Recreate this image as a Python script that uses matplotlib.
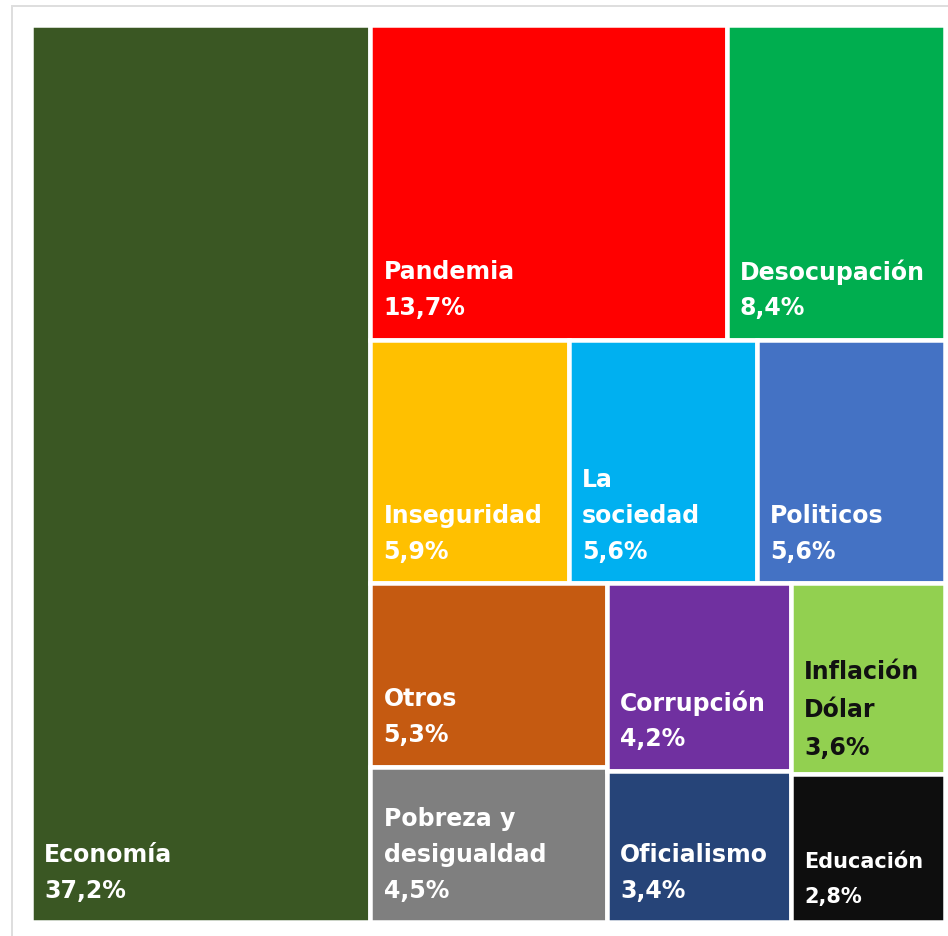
import matplotlib
matplotlib.use('Agg')
import matplotlib.pyplot as plt
from matplotlib.patches import Rectangle

# data
labels = ['Economía', 'Pandemia', 'Desocupación', 'Inseguridad', 'La\nsociedad',
          'Politicos', 'Otros', 'Corrupción', 'Inflación\nDólar',
          'Pobreza y\ndesigualdad', 'Oficialismo', 'Educación']
values = [37.2, 13.7, 8.4, 5.9, 5.6, 5.6, 5.3, 4.2, 3.6, 4.5, 3.4, 2.8]
colors = ['#3a5723', '#ff0000', '#00ae4f', '#ffc000', '#00b0f0', '#4472c4',
          '#c55a11', '#7030a0', '#92d050', '#7f7f7f', '#264478', '#0e0e0e']
text_colors = ['white'] * 8 + ['#111111'] + ['white'] * 3

# nesting of the treemap: 'h' splits side by side, 'v' stacks
tree = ('h', [0, ('v', [('h', [1, 2]),
                        ('h', [3, 4, 5]),
                        ('h', [('v', [6, 9]), ('v', [7, 10]), ('v', [8, 11])])])])


def total(node):
    if isinstance(node, int):
        return values[node]
    return sum(total(c) for c in node[1])


def layout(node, x0, y0, x1, y1, out):
    if isinstance(node, int):
        out[node] = (x0, y0, x1, y1)
        return
    kind, kids = node
    tot = total(node)
    pos = x0 if kind == 'h' else y0
    for c in kids:
        frac = total(c) / tot
        if kind == 'h':
            w = (x1 - x0) * frac
            layout(c, pos, y0, pos + w, y1, out)
            pos += w
        else:
            h = (y1 - y0) * frac
            layout(c, x0, pos, x1, pos + h, out)
            pos += h


W, H = 948, 937
fig = plt.figure(figsize=(W / 100, H / 100), dpi=100)
gap = 4.5  # px
ax = fig.add_axes([(33 - gap / 2) / W, 1 - (921 + gap / 2) / H,
                   (910 + gap) / W, (893 + gap) / H])
ax.set_xlim(0, 100)
ax.set_ylim(100, 0)
ax.axis('off')

# light frame around the chart
fig.add_artist(Rectangle((12 / W, -0.05), 1.1, 1.05 - 7 / H,
                         transform=fig.transFigure, fill=False,
                         edgecolor='#dedede', linewidth=1.4))

rects = {}
layout(tree, 0, 0, 100, 100, rects)

for i, (x0, y0, x1, y1) in rects.items():
    ax.add_patch(Rectangle((x0, y0), x1 - x0, y1 - y0, facecolor=colors[i],
                           edgecolor='white', linewidth=gap * 0.72))
    lines = labels[i].split('\n') + [f'{values[i]:.1f}%'.replace('.', ',')]
    fs = 17
    step = 36
    base = 30
    if labels[i] == 'Educación':
        fs, step, base = 15, 35, 24
    elif labels[i].startswith('Inflación'):
        step, base = 38, 25
    for k, line in enumerate(reversed(lines)):
        ax.annotate(line, (x0, y1), xytext=(gap / 2 + 11, gap / 2 + base + k * step),
                    textcoords='offset pixels', ha='left', va='center',
                    fontsize=fs, fontweight='bold', color=text_colors[i],
                    family='DejaVu Sans')

fig.savefig('out.png', dpi=100)
